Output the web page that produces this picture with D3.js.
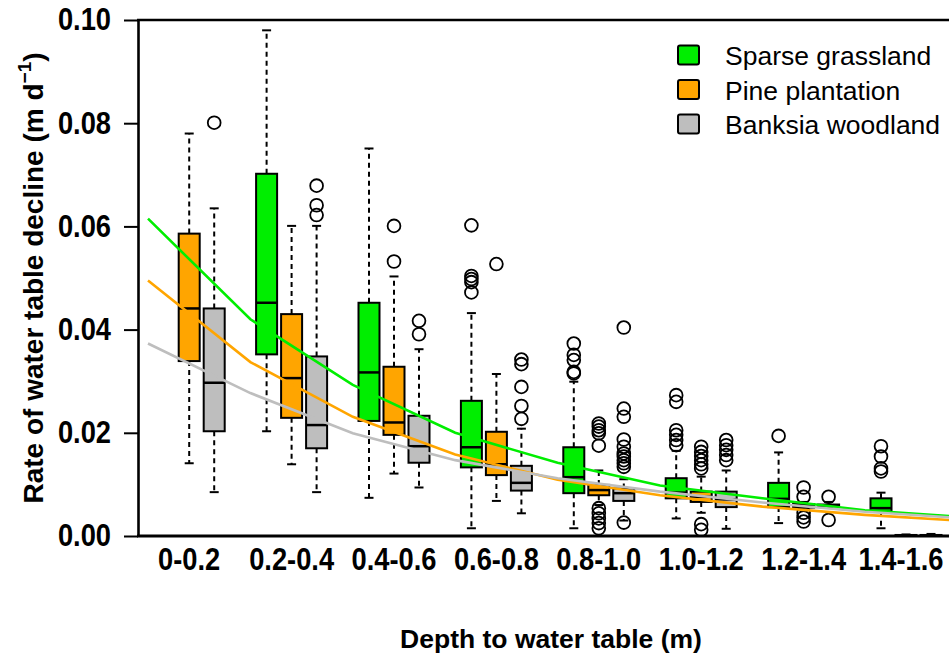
<!DOCTYPE html>
<html>
<head>
<meta charset="utf-8">
<script src="https://cdn.jsdelivr.net/npm/d3@7"></script>
<style>
  html, body { margin: 0; padding: 0; background: #fff; }
  svg { display: block; font-family: "Liberation Sans", Arial, Helvetica, sans-serif; }
</style>
</head>
<body>
<div id="chart"></div>
<script>
// categories
const depthBins = ['0-0.2', '0.2-0.4', '0.4-0.6', '0.6-0.8', '0.8-1.0', '1.0-1.2', '1.2-1.4', '1.4-1.6'];
const seriesNames = ['Sparse grassland', 'Pine plantation', 'Banksia woodland'];
const yTicks = [0, 0.02, 0.04, 0.06, 0.08, 0.10];

// box stats per depth bin: [lower whisker, Q1, median, Q3, upper whisker]
const grassStats = [
    null,
    [0.0203, 0.0352, 0.0452, 0.0702, 0.0980],
    [0.0074, 0.0223, 0.0317, 0.0452, 0.0751],
    [0.0015, 0.0133, 0.0172, 0.0262, 0.0432],
    [0.0015, 0.0083, 0.0114, 0.0172, 0.0299],
    [0.0034, 0.0073, 0.0084, 0.0112, 0.0165],
    [0.0025, 0.0056, 0.0072, 0.0103, 0.0162],
    [0.0015, 0.0047, 0.0054, 0.0073, 0.0084]
];
const pineStats = [
    [0.0141, 0.0339, 0.0441, 0.0586, 0.0780],
    [0.0139, 0.0229, 0.0306, 0.0430, 0.0601],
    [0.0121, 0.0196, 0.0220, 0.0328, 0.0503],
    [0.0068, 0.0118, 0.0139, 0.0202, 0.0314],
    [0.0060, 0.0079, 0.0089, 0.0099, 0.0127],
    [0.0045, 0.0066, 0.0076, 0.0086, 0.0115],
    [0.0052, 0.0055, 0.0058, 0.0062, 0.0066],
    [0.0000, 0.0000, 0.0001, 0.0002, 0.0003]
];
const banksiaStats = [
    [0.0085, 0.0203, 0.0297, 0.0441, 0.0635],
    [0.0085, 0.0170, 0.0215, 0.0348, 0.0601],
    [0.0094, 0.0142, 0.0174, 0.0233, 0.0362],
    [0.0044, 0.0088, 0.0103, 0.0136, 0.0208],
    [0.0030, 0.0068, 0.0083, 0.0092, 0.0110],
    [0.0014, 0.0056, 0.0071, 0.0086, 0.0127],
    [0.0055, 0.0057, 0.0059, 0.0061, 0.0066],
    [0.0000, 0.0000, 0.0001, 0.0002, 0.0004]
];

// outliers per depth bin
const grassOutliers = [
    [], [], [],
    [0.0602, 0.0504, 0.0498, 0.0492, 0.0472],
    [0.0373, 0.0351, 0.0341, 0.0318, 0.0315],
    [0.0273, 0.0260, 0.0205, 0.0196, 0.0186, 0.0176],
    [0.0194],
    [0.0174, 0.0154, 0.0131, 0.0125]
];
const pineOutliers = [
    [], [],
    [0.0601, 0.0532],
    [0.0527],
    [0.0218, 0.0212, 0.0205, 0.0199, 0.0175, 0.0054, 0.0044, 0.0034, 0.0025, 0.0015],
    [0.0173, 0.0163, 0.0155, 0.0147, 0.0139, 0.0131, 0.0023, 0.0012],
    [0.0094, 0.0076, 0.0045, 0.0036, 0.0028],
    []
];
const banksiaOutliers = [
    [0.0801],
    [0.0679, 0.0641, 0.0622],
    [0.0417, 0.0391],
    [0.0342, 0.0333, 0.0289, 0.0252, 0.0227],
    [0.0404, 0.0247, 0.0231, 0.0187, 0.0173, 0.0160, 0.0154, 0.0147, 0.0141, 0.0134, 0.0026],
    [0.0186, 0.0176, 0.0167, 0.0157, 0.0147],
    [0.0076, 0.0031],
    []
];

// fitted curves, evaluated at depth steps
const fitDepths = [0, 0.2, 0.4, 0.6, 0.8, 1.0, 1.2, 1.4, 1.6];
const grassFit = [0.0615, 0.0420, 0.0293, 0.0200, 0.0142, 0.0098, 0.0073, 0.0050, 0.0036];
const pineFit = [0.0495, 0.0337, 0.0231, 0.0158, 0.0109, 0.0079, 0.0057, 0.0041, 0.0029];
const banksiaFit = [0.0373, 0.0277, 0.0199, 0.0147, 0.0112, 0.0086, 0.0065, 0.0047, 0.0034];

const colors = ['#00ee00', '#ffa500', '#bebebe'];

const width = 949, height = 657;
const plotLeft = 138, plotTop = 20, plotBottom = 536;
const groupStep = 102.4;

// squeeze text horizontally (tick labels look narrow and tall)
function squeeze(sel, k) {
    sel.each(function() {
        const w = this.getComputedTextLength();
        this.setAttribute('textLength', w * k);
        this.setAttribute('lengthAdjust', 'spacingAndGlyphs');
    });
}

const svg = d3.select('#chart').append('svg')
    .attr('width', width)
    .attr('height', height);

svg.append('rect').attr('width', width).attr('height', height).attr('fill', '#fff');

const y = d3.scaleLinear().domain([0, 0.1]).range([plotBottom, plotTop]);
const x = d3.scaleBand().domain(depthBins).range([plotLeft, plotLeft + groupStep * depthBins.length]);
const xSeries = d3.scaleBand().domain(seriesNames).range([-37.5, 37.5]);
const xDepth = d3.scaleLinear().domain([0, 1.6]).range([plotLeft + 10, plotLeft + 10 + groupStep * 8]);

const allStats = [grassStats, pineStats, banksiaStats];
const allOutliers = [grassOutliers, pineOutliers, banksiaOutliers];
const allFits = [grassFit, pineFit, banksiaFit];

const boxW = 21, capW = 9;
const boxes = svg.append('g');

seriesNames.forEach((name, s) => {
    depthBins.forEach((bin, i) => {
        const st = allStats[s][i];
        if (!st) return;
        const cx = x(bin) + x.bandwidth() / 2 + xSeries(name) + xSeries.bandwidth() / 2;
        const g = boxes.append('g');

        // whiskers
        [[st[3], st[4]], [st[1], st[0]]].forEach(([a, b]) => {
            g.append('line')
                .attr('x1', cx).attr('x2', cx)
                .attr('y1', y(a)).attr('y2', y(b))
                .attr('stroke', '#000').attr('stroke-width', 2)
                .attr('stroke-dasharray', '5,4');
        });
        [st[0], st[4]].forEach(v => {
            g.append('line')
                .attr('x1', cx - capW / 2).attr('x2', cx + capW / 2)
                .attr('y1', y(v)).attr('y2', y(v))
                .attr('stroke', '#000').attr('stroke-width', 2);
        });

        g.append('rect')
            .attr('x', cx - boxW / 2)
            .attr('y', y(st[3]))
            .attr('width', boxW)
            .attr('height', Math.max(0.5, y(st[1]) - y(st[3])))
            .attr('fill', colors[s])
            .attr('stroke', '#000').attr('stroke-width', 2);

        g.append('line')
            .attr('x1', cx - boxW / 2).attr('x2', cx + boxW / 2)
            .attr('y1', y(st[2])).attr('y2', y(st[2]))
            .attr('stroke', '#000').attr('stroke-width', 2.5);

        allOutliers[s][i].forEach(v => {
            g.append('circle')
                .attr('cx', cx).attr('cy', y(v)).attr('r', 6.4)
                .attr('fill', 'none')
                .attr('stroke', '#000').attr('stroke-width', 1.8);
        });
    });
});

// fitted lines on top of boxes
const line = d3.line()
    .x((d, k) => xDepth(fitDepths[k]))
    .y(d => y(d));

allFits.forEach((fit, s) => {
    svg.append('path')
        .datum(fit)
        .attr('d', line)
        .attr('fill', 'none')
        .attr('stroke', colors[s])
        .attr('stroke-width', 2.6);
});

// y axis
const yAxis = svg.append('g')
    .attr('transform', `translate(${plotLeft},0)`)
    .call(d3.axisLeft(y).tickValues(yTicks).tickFormat(d3.format('.2f')).tickSize(14).tickSizeOuter(0).tickPadding(13));
yAxis.select('.domain').attr('stroke-width', 2.6);
yAxis.selectAll('.tick line').attr('stroke-width', 2);
yAxis.selectAll('.tick text')
    .attr('font-size', 31).attr('font-weight', 'bold')
    .attr('font-family', '"Liberation Sans", Arial, sans-serif')
    .attr('fill', '#000')
    .call(squeeze, 0.88);

// x axis labels
const xAxis = svg.append('g')
    .attr('transform', `translate(0,${plotBottom})`)
    .call(d3.axisBottom(x).tickSize(0).tickPadding(12));
xAxis.select('.domain').remove();
xAxis.selectAll('.tick text')
    .attr('font-size', 31).attr('font-weight', 'bold')
    .attr('font-family', '"Liberation Sans", Arial, sans-serif')
    .attr('fill', '#000')
    .call(squeeze, 0.88);

// last label sits on the page edge, pull it in a little
xAxis.selectAll('.tick text')
    .filter(d => d === depthBins[depthBins.length - 1])
    .attr('x', -5);

// frame: bottom axis line and top border
svg.append('line')
    .attr('x1', plotLeft - 1).attr('x2', width)
    .attr('y1', plotBottom).attr('y2', plotBottom)
    .attr('stroke', '#000').attr('stroke-width', 3);
svg.append('line')
    .attr('x1', plotLeft - 1).attr('x2', width)
    .attr('y1', plotTop).attr('y2', plotTop)
    .attr('stroke', '#000').attr('stroke-width', 2.6);

// axis titles
svg.append('text')
    .attr('x', 551).attr('y', 648)
    .attr('text-anchor', 'middle')
    .attr('font-size', 26.5).attr('font-weight', 'bold')
    .text('Depth to water table (m)');

const yTitle = svg.append('text')
    .attr('transform', `translate(43,${(plotTop + plotBottom) / 2}) rotate(-90)`)
    .attr('text-anchor', 'middle')
    .attr('font-size', 28).attr('font-weight', 'bold');
yTitle.append('tspan').text('Rate of water table decline (m d');
yTitle.append('tspan').attr('font-size', 19).attr('dy', -12).text('\u22121');
yTitle.append('tspan').attr('dy', 12).text(')');

// legend
const legend = svg.append('g').attr('transform', 'translate(678,0)');
seriesNames.forEach((name, s) => {
    const cy = 55 + s * 34.5;
    legend.append('rect')
        .attr('x', 0).attr('y', cy - 9.5)
        .attr('width', 21).attr('height', 19)
        .attr('rx', 2)
        .attr('fill', colors[s])
        .attr('stroke', '#000').attr('stroke-width', 2);
    legend.append('text')
        .attr('x', 47).attr('y', cy + 10)
        .attr('font-size', 26.5)
        .text(name);
});
</script>
</body>
</html>
